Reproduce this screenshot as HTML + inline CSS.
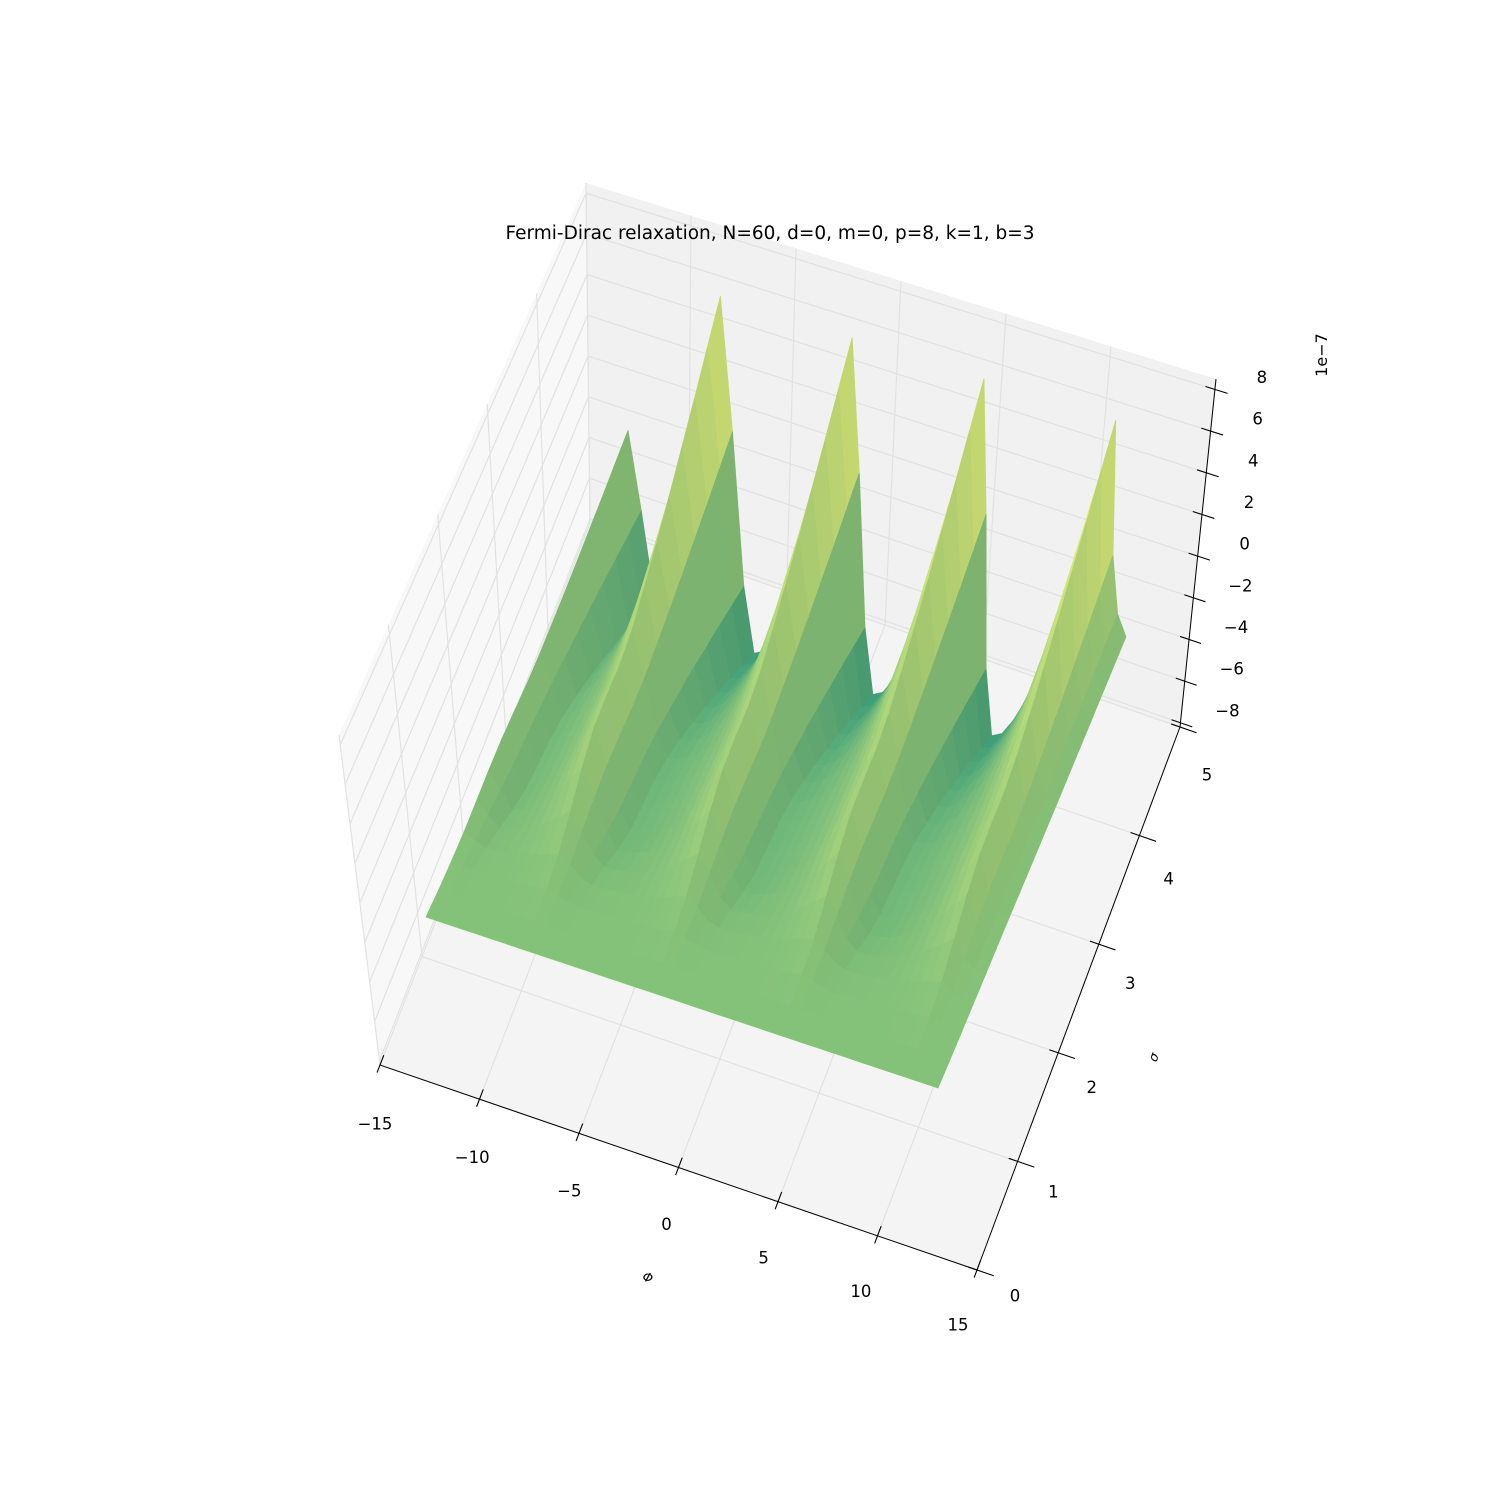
<!DOCTYPE html>
<html>
<head>
<meta charset="utf-8">
<style>
  html, body { margin:0; padding:0; background:#ffffff; }
  svg { display:block; font-family:"DejaVu Sans","Liberation Sans",sans-serif; }
</style>
</head>
<body>
<svg id="chart" width="1500" height="1500" viewBox="0 0 1500 1500" xmlns="http://www.w3.org/2000/svg">
  <rect x="0" y="0" width="1500" height="1500" fill="#ffffff"/>
  <g id="panes"></g>
  <g id="grid"></g>
  <g id="surface"></g>
  <g id="axes"></g>
  <g id="labels"></g>
  <text x="770" y="239" text-anchor="middle" font-size="18.5" fill="#000">Fermi-Dirac relaxation, N=60, d=0, m=0, p=8, k=1, b=3</text>
  <text x="648" y="1282" text-anchor="middle" font-size="13" font-style="italic" fill="#000" transform="rotate(19 648 1277)">Φ</text>
  <text x="1153" y="1062" text-anchor="middle" font-size="13" font-style="italic" fill="#000" transform="rotate(-69 1153 1057)">σ</text>
  <text x="1321" y="361" text-anchor="middle" font-size="16" fill="#000" transform="rotate(-90 1321 355)">1e−7</text>
</svg>
<script>
// ---------- data ----------
const xTicks = [-15, -10, -5, 0, 5, 10, 15];
const yTicks = [0, 1, 2, 3, 4, 5];
const zTicks = [-8, -6, -4, -2, 0, 2, 4, 6, 8];
const xLim = [-15, 15];
const yLim = [0, 5];
const zLim = [-8.2, 8.5];
const colorLimits = [-6.5, 7.8];
const phiRange = [-12.566, 12.566];
const sigmaRows = [0, 0.3125, 0.625, 0.9375, 1.25, 1.5625, 1.875, 2.1875, 2.5, 2.8125, 3.125, 3.4375, 3.75, 4.0625, 4.375, 4.6875, 5];
// height profile along Φ at the back edge (units of 1e-7)
const phiProfile = [1.8,-1.0,-4.0,-3.2,-2.2,-0.9,0.8,3.0,5.5,7.8,3.0,-2.5,
                    -4.8,-4.6,-4.0,-3.2,-2.2,-0.9,0.8,3.0,5.5,7.8,3.0,-2.5,
                    -4.8,-4.6,-4.0,-3.2,-2.2,-0.9,0.8,3.0,5.5,7.8,3.0,-2.5,
                    -4.8,-4.6,-4.0,-3.2,-2.2,-0.9,0.8,3.0,5.5,7.8,3.0,1.0,
                    0.3];
// relative amplitude of that profile for each σ row (front → back)
const sigmaAmplitude = [0, 0, 0.02, 0.06, 0.13, 0.21, 0.27, 0.29, 0.3, 0.34, 0.41, 0.49, 0.58, 0.68, 0.78, 0.89, 1.0];

// ---------- projection ----------
const NS = 'http://www.w3.org/2000/svg';
const C = {
  p000:[380,1065], p100:[977,1270], p110:[1180,727], p010:[590,523],
  p001:[339,735],  p101:[1006,925], p111:[1216,379], p011:[586,183]
};
function boxP(u, v, w) {
  return [0,1].map(i =>
    (1-u)*(1-v)*(1-w)*C.p000[i] + u*(1-v)*(1-w)*C.p100[i] + u*v*(1-w)*C.p110[i] + (1-u)*v*(1-w)*C.p010[i] +
    (1-u)*(1-v)*w*C.p001[i] + u*(1-v)*w*C.p101[i] + u*v*w*C.p111[i] + (1-u)*v*w*C.p011[i]);
}
const xU = x => (x - xLim[0]) / (xLim[1] - xLim[0]);
const yV = y => (y - yLim[0]) / (yLim[1] - yLim[0]);
const zW = z => (z - zLim[0]) / (zLim[1] - zLim[0]);

const S00 = [426,917], S10 = [938,1088], S01 = [630,480], S11 = [1125,645];
const LIFT = 27.5;
function surfP(phi, sigma, z) {
  const u = (phi - phiRange[0]) / (phiRange[1] - phiRange[0]);
  const t = (sigma - sigmaRows[0]) / (sigmaRows[sigmaRows.length-1] - sigmaRows[0]);
  const bx = (1-u)*(1-t)*S00[0] + u*(1-t)*S10[0] + (1-u)*t*S01[0] + u*t*S11[0];
  const by = (1-u)*(1-t)*S00[1] + u*(1-t)*S10[1] + (1-u)*t*S01[1] + u*t*S11[1];
  const lift = z * LIFT;
  return [bx + lift*(bx-760)/3300, by - lift, by];
}

function mk(tag, attrs, parent) {
  const el = document.createElementNS(NS, tag);
  for (const k in attrs) el.setAttribute(k, attrs[k]);
  parent.appendChild(el);
  return el;
}
const pts = arr => arr.map(p => p[0].toFixed(1)+','+p[1].toFixed(1)).join(' ');

// ---------- panes ----------
const gP = document.getElementById('panes');
let e;
e = mk('polygon', {points: pts([boxP(0,0,0),boxP(0,1,0),boxP(0,1,1),boxP(0,0,1)]), fill:'#f8f8f8'}, gP);


e = mk('polygon', {points: pts([boxP(0,1,0),boxP(1,1,0),boxP(1,1,1),boxP(0,1,1)]), fill:'#f1f1f1'}, gP);


e = mk('polygon', {points: pts([boxP(0,0,0),boxP(1,0,0),boxP(1,1,0),boxP(0,1,0)]), fill:'#f4f4f4'}, gP);



// ---------- grid ----------
const gG = document.getElementById('grid');
function gline(a, b, name) {
  const l = mk('line', {x1:a[0], y1:a[1], x2:b[0], y2:b[1], stroke:'#e2e2e2', 'stroke-width':1.2}, gG);
  
  
}
xTicks.forEach(x => {
  const u = xU(x);
  gline(boxP(u,0,0), boxP(u,1,0), 'x-grid-floor');
  gline(boxP(u,1,0), boxP(u,1,1), 'x-grid-back');
});
yTicks.forEach(y => {
  const v = yV(y);
  gline(boxP(0,v,0), boxP(1,v,0), 'y-grid-floor');
  gline(boxP(0,v,0), boxP(0,v,1), 'y-grid-left');
});
zTicks.forEach(z => {
  const w = zW(z);
  gline(boxP(0,1,w), boxP(1,1,w), 'z-grid-back');
  gline(boxP(0,0,w), boxP(0,1,w), 'z-grid-left');
});

// ---------- surface ----------
const gS = document.getElementById('surface');
function summer(c) {
  c = Math.max(0, Math.min(1, c));
  return [255*c, 255*(0.5+0.5*c), 102];
}
const nPhi = phiProfile.length;
const nRows = sigmaRows.length;
const phiAt = j => phiRange[0] + (phiRange[1]-phiRange[0]) * j / (nPhi-1);
const zAt = (r, j) => phiProfile[j] * sigmaAmplitude[r];
const L = (function(){ const v=[-1,-0.5,1]; const n=Math.hypot(...v); return v.map(a=>a/n); })();
const duPx = 512/(nPhi-1), dtPx = 475/(nRows-1);
const quads = [];
for (let r = 0; r < nRows-1; r++) {
  for (let j = 0; j < nPhi-1; j++) {
    const z00 = zAt(r,j), z10 = zAt(r,j+1), z01 = zAt(r+1,j), z11 = zAt(r+1,j+1);
    const a = surfP(phiAt(j), sigmaRows[r], z00);
    const b = surfP(phiAt(j+1), sigmaRows[r], z10);
    const c = surfP(phiAt(j+1), sigmaRows[r+1], z11);
    const d = surfP(phiAt(j), sigmaRows[r+1], z01);
    const zAvg = (z00+z10+z01+z11)/4;
    const dzu = ((z10+z11)-(z00+z01))/2, dzt = ((z01+z11)-(z00+z10))/2;
    const su = dzu*LIFT/duPx, st = dzt*LIFT/dtPx;
    const nn = Math.hypot(su, st, 1);
    const s = (-su*L[0] - st*L[1] + L[2]) / nn;
    const f = 0.95 + 0.08*s;
    let col = summer((zAvg - colorLimits[0])/(colorLimits[1]-colorLimits[0]));
    col = col.map(v => f <= 1 ? v*f : v + (255-v)*(f-1));
    col = col.map(v => Math.round(Math.min(255, 0.88*v + 0.12*255)));
    const depth = (a[2]+b[2]+c[2]+d[2])/4;
    quads.push({p:[a,b,c,d], col, depth});
  }
}
quads.sort((q1,q2) => q1.depth - q2.depth);
quads.forEach(q => {
  const fill = 'rgb('+q.col.join(',')+')';
  const poly = mk('polygon', {points: pts(q.p), fill: fill, stroke: fill, 'stroke-width':0.8, 'stroke-linejoin':'round'}, gS);
  
  
});

// ---------- axes ----------
const gA = document.getElementById('axes');
function aline(a, b, name, w) {
  const l = mk('line', {x1:a[0], y1:a[1], x2:b[0], y2:b[1], stroke:'#000', 'stroke-width':w}, gA);
  
  
}
aline(boxP(0,0,0), boxP(1,0,0), 'x-axis-line', 1);
aline(boxP(1,0,0), boxP(1,1,0), 'y-axis-line', 1);
aline(boxP(1,1,0), boxP(1,1,1), 'z-axis-line', 1);

const gL = document.getElementById('labels');
function label(x, y, txt, name) {
  const t = mk('text', {x:x, y:y, 'text-anchor':'middle', 'dominant-baseline':'central', 'font-size':16.5, fill:'#000'}, gL);
  t.textContent = txt;
  
  
}
const fmt = v => (v < 0 ? '−' + Math.abs(v) : String(v));
xTicks.forEach(x => {
  const u = xU(x);
  aline(boxP(u,-0.014,0), boxP(u,0.018,0), 'x-tick', 1.1);
  const p = boxP(u,0,0);
  label(p[0]-5-14*u, p[1]+59-4*u, fmt(x), 'x-tick-label');
});
yTicks.forEach(y => {
  const v = yV(y);
  aline(boxP(0.985,v,0), boxP(1.028,v,0), 'y-tick', 1.1);
  const p = boxP(1,v,0);
  label(p[0]+38-11*v, p[1]+26+22*v, fmt(y), 'y-tick-label');
});
zTicks.forEach(z => {
  const w = zW(z);
  aline(boxP(0.985,1,w), boxP(1.02,1,w), 'z-tick', 1.1);
  const p = boxP(1,1,w);
  label(p[0]+47, p[1]-12, fmt(z), 'z-tick-label');
});
</script>
</body>
</html>
